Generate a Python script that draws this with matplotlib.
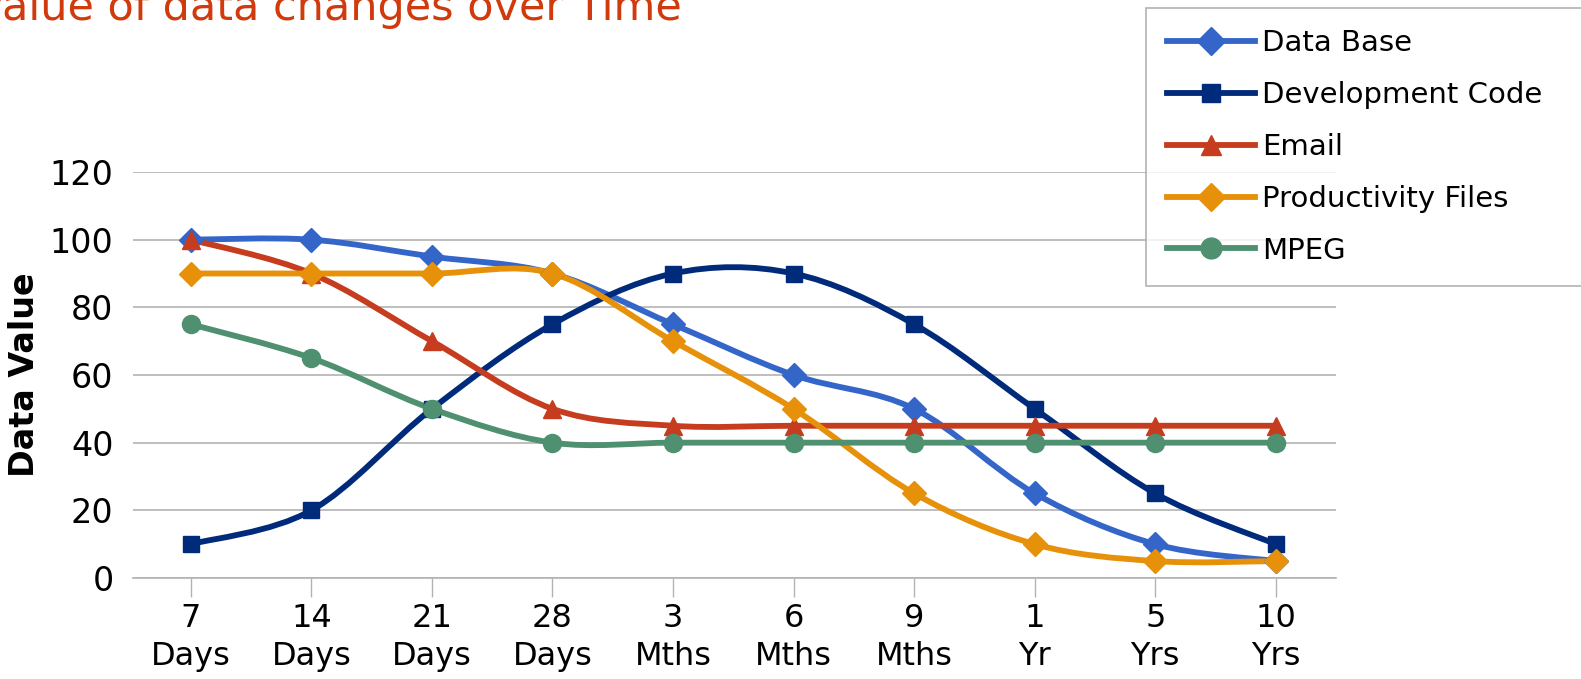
"""
Value of data changes over time - line chart with smoothed curves
"""
import numpy as np
import matplotlib
matplotlib.use('Agg')
import matplotlib.pyplot as plt
from matplotlib.path import Path
from matplotlib.patches import PathPatch
from matplotlib.lines import Line2D

# Data
categories = ['7\nDays', '14\nDays', '21\nDays', '28\nDays', '3\nMths',
              '6\nMths', '9\nMths', '1\nYr', '5\nYrs', '10\nYrs']
data_base = [100, 100, 95, 90, 75, 60, 50, 25, 10, 5]
dev_code = [10, 20, 50, 75, 90, 90, 75, 50, 25, 10]
email = [100, 90, 70, 50, 45, 45, 45, 45, 45, 45]
productivity = [90, 90, 90, 90, 70, 50, 25, 10, 5, 5]
mpeg = [75, 65, 50, 40, 40, 40, 40, 40, 40, 40]

series = [
    ('Data Base', data_base, '#3465c9', 'D', 12),
    ('Development Code', dev_code, '#002a7a', 's', 11),
    ('Email', email, '#c63c1e', '^', 13),
    ('Productivity Files', productivity, '#e69109', 'D', 12),
    ('MPEG', mpeg, '#4e9070', 'o', 13),
]

plt.rcParams['font.family'] = ['DejaVu Sans']


def smooth_path(x, y):
    """Catmull-Rom curve through the points as cubic Bezier segments"""
    x = np.asarray(x, float)
    y = np.asarray(y, float)
    pts = np.column_stack([x, y])
    verts = [pts[0]]
    codes = [Path.MOVETO]
    n = len(pts)
    for i in range(n - 1):
        p0 = pts[i - 1] if i > 0 else pts[i]
        p1 = pts[i]
        p2 = pts[i + 1]
        p3 = pts[i + 2] if i + 2 < n else pts[i + 1]
        c1 = p1 + (p2 - p0) / 6.0
        c2 = p2 - (p3 - p1) / 6.0
        verts += [c1, c2, p2]
        codes += [Path.CURVE4] * 3
    return Path(verts, codes)


fig = plt.figure(figsize=(15.81, 6.79), dpi=100)
ax = fig.add_axes([133 / 1581, 1 - 578 / 679, (1336 - 133) / 1581, (578 - 172) / 679])

x = np.arange(len(categories))
handles = []
for name, vals, color, marker, ms in series:
    patch = PathPatch(smooth_path(x, vals), facecolor='none', edgecolor=color,
                      lw=4.2, capstyle='round', joinstyle='round', zorder=3)
    ax.add_patch(patch)
    ax.plot(x, vals, linestyle='none', marker=marker, markersize=ms,
            color=color, zorder=4)
    handles.append(Line2D([], [], color=color, lw=4.2, marker=marker,
                          markersize=ms + 2, label=name))

ax.set_xlim(-0.48, 9.5)
ax.set_ylim(0, 120)
ax.set_yticks(range(0, 121, 20))
ax.set_xticks(x)
ax.set_xticklabels(categories, fontsize=23, linespacing=1.3)
ax.tick_params(axis='y', length=0, labelsize=24, pad=14)
ax.tick_params(axis='x', length=14, width=1, color='#b3b3b3', pad=4)
ax.yaxis.grid(True, color='#b3b3b3', lw=1.2)
ax.set_axisbelow(True)
for side in ['left', 'right', 'top']:
    ax.spines[side].set_visible(False)
ax.spines['bottom'].set_color('#b3b3b3')
ax.spines['bottom'].set_linewidth(1.2)
ax.set_ylabel('Data Value', fontsize=24, fontweight='bold', labelpad=6)

fig.text(-24 / 1581, 1 - 20 / 679, 'Value of data changes over Time', color='#d03a0c',
         fontsize=31, ha='left', va='baseline')

leg = fig.legend(handles=handles, loc='upper left', mode='expand',
                 bbox_to_anchor=(1146 / 1581, 1 - 286 / 679, 460 / 1581, 278 / 679),
                 fontsize=21, frameon=True, fancybox=False, handlelength=3.0,
                 handletextpad=0.25, borderpad=0.72, labelspacing=0.82,
                 borderaxespad=0)
leg.get_frame().set_edgecolor('#a0a0a0')
leg.get_frame().set_linewidth(1.2)

plt.savefig('out.png', dpi=100)
plt.close()
